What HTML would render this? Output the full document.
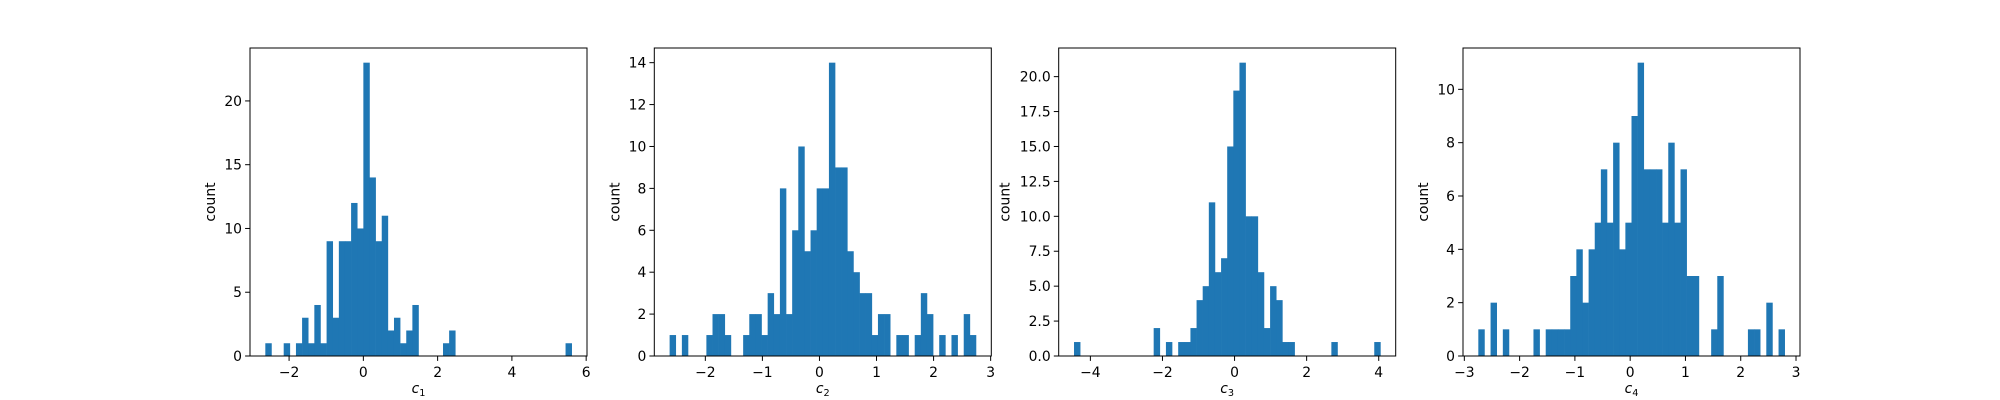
<!DOCTYPE html>
<html><head><meta charset="utf-8"><style>
body{margin:0;background:#fff}
svg{display:block;font-family:"DejaVu Sans","Liberation Sans",sans-serif}
</style></head><body>
<svg id="fig" width="2000" height="400" viewBox="0 0 2000 400" xmlns="http://www.w3.org/2000/svg"></svg>
<script>
// data: 50-bin histogram counts per component
const c1Counts = [1,0,0,1,0,1,3,1,4,1,9,3,9,9,12,10,23,14,9,11,2,3,1,2,4,0,0,0,0,1,2,0,0,0,0,0,0,0,0,0,0,0,0,0,0,0,0,0,0,1];
const c2Counts = [1,0,1,0,0,0,1,2,2,1,0,0,1,2,2,1,3,2,8,2,6,10,5,6,8,8,14,9,9,5,4,3,3,1,2,2,0,1,1,0,1,3,2,0,1,0,1,0,2,1];
const c3Counts = [1,0,0,0,0,0,0,0,0,0,0,0,0,2,0,1,0,1,1,2,4,5,11,6,7,15,19,21,10,10,6,2,5,4,1,1,0,0,0,0,0,0,1,0,0,0,0,0,0,1];
const c4Counts = [1,0,2,0,1,0,0,0,0,1,0,1,1,1,1,3,4,2,4,5,7,5,8,4,5,9,11,7,7,7,5,8,5,7,3,3,0,0,1,3,0,0,0,0,1,1,0,2,0,1];
const binRanges = [[-2.64,5.61],[-2.626,2.743],[-4.454,4.046],[-2.747,2.795]];
const xTicks = [[-2,0,2,4,6],[-2,-1,0,1,2,3],[-4,-2,0,2,4],[-3,-2,-1,0,1,2,3]];
const yTicks = [[0,5,10,15,20],[0,2,4,6,8,10,12,14],[0,2.5,5,7.5,10,12.5,15,17.5,20],[0,2,4,6,8,10]];
const yTickDecimals = [0,0,1,0];
const labelSubs = ["1","2","3","4"];
const allCounts = [c1Counts,c2Counts,c3Counts,c4Counts];

const NS="http://www.w3.org/2000/svg";
const svg=document.getElementById('fig');
const axLefts=[250,654.3,1058.7,1463], axW=337, axTop=48, axBot=356;
const ylabOff=[40,40,54,40];
function mk(tag,attrs,parent){const e=document.createElementNS(NS,tag);for(const k in attrs)e.setAttribute(k,attrs[k]);(parent||svg).appendChild(e);return e;}
function fmt(v,d){let s=v.toFixed(d);return s.replace('-','\u2212');}

allCounts.forEach((counts,i)=>{
  const g=mk('g',{});
  
  
  const [mn,mx]=binRanges[i];
  const pad=(mx-mn)*0.05, x0=mn-pad, x1=mx+pad;
  const ymax=Math.max(...counts)*1.05;
  const L=axLefts[i];
  const sx=v=>L+(v-x0)/(x1-x0)*axW;
  const sy=v=>axBot-v/ymax*(axBot-axTop);
  const bw=(mx-mn)/counts.length;
  counts.forEach((c,k)=>{
    if(c<=0)return;
    const xa=sx(mn+k*bw), xb=sx(mn+(k+1)*bw);
    const r=mk('rect',{x:xa,y:sy(c),width:xb-xa+0.3,height:axBot-sy(c),fill:'#1f77b4'},g);
    
    
  });
  const fr=mk('rect',{x:L,y:axTop,width:axW,height:axBot-axTop,fill:'none',stroke:'#000','stroke-width':1},g);
  
  
  xTicks[i].forEach(t=>{
    const x=sx(t);
    mk('line',{x1:x,x2:x,y1:axBot,y2:axBot+4.9,stroke:'#000','stroke-width':1},g);
    const tx=mk('text',{x:x,y:axBot+21,'font-size':'13.9px','text-anchor':'middle'},g);
    
    
    tx.textContent=fmt(t,0);
  });
  yTicks[i].forEach(t=>{
    const y=sy(t);
    mk('line',{x1:L-4.9,x2:L,y1:y,y2:y,stroke:'#000','stroke-width':1},g);
    const tx=mk('text',{x:L-8,y:y+5,'font-size':'13.9px','text-anchor':'end'},g);
    
    
    tx.textContent=fmt(t,yTickDecimals[i]);
  });
  const xl=mk('text',{x:L+axW/2,y:393,'font-size':'13.9px','text-anchor':'middle','font-style':'italic'},g);
  
  
  xl.textContent='c';
  const sub=mk('tspan',{'font-size':'9.7px',dy:'3','font-style':'normal'},xl);
  sub.textContent=labelSubs[i];
  const yx=L-ylabOff[i], yy=(axTop+axBot)/2;
  const yl=mk('text',{x:yx,y:yy,'font-size':'13.9px','text-anchor':'middle',transform:`rotate(-90 ${yx} ${yy})`,dy:'5'},g);
  
  
  yl.textContent='count';
});
</script>
</body></html>
